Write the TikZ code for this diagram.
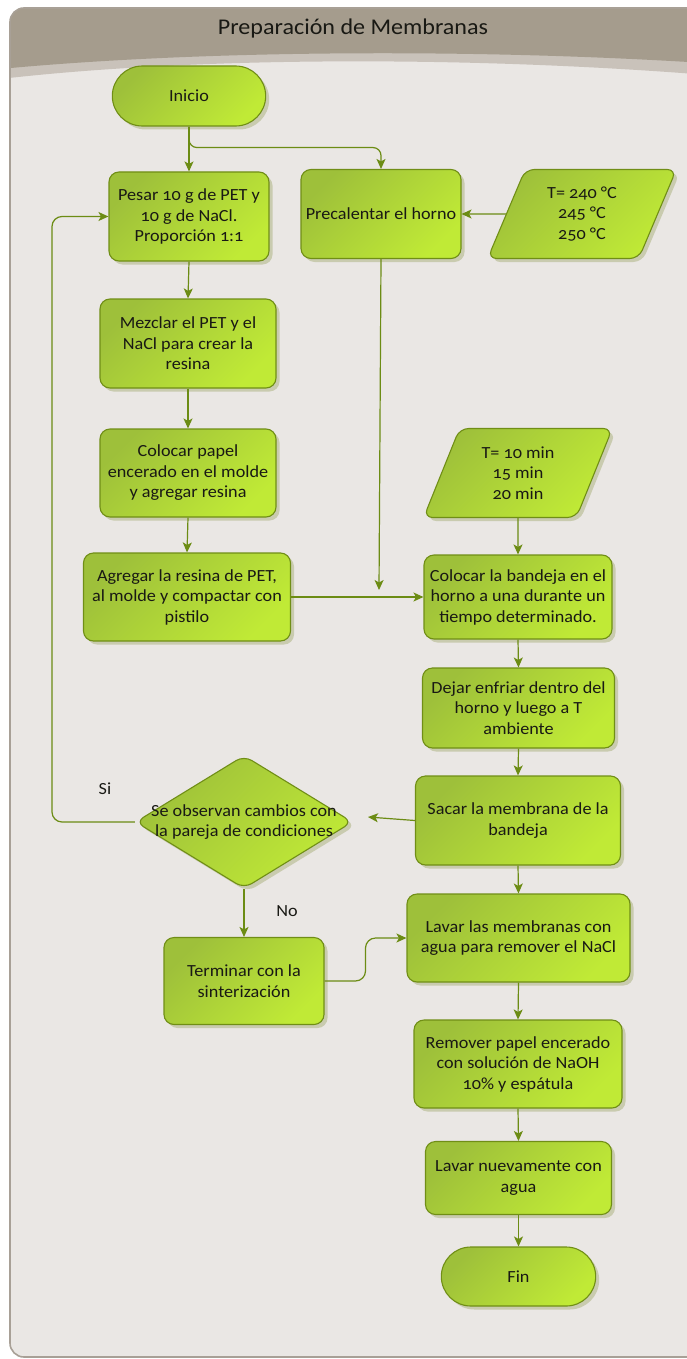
\documentclass[tikz,border=0pt]{standalone}
\usepackage{fontspec}
\setmainfont[Numbers=OldStyle,FakeStretch=1.07]{Carlito}
\usetikzlibrary{shapes.geometric,shapes.misc,shadows,arrows.meta,calc}
\definecolor{gA}{RGB}{158,192,58}
\definecolor{gB}{RGB}{192,234,54}
\definecolor{bord}{RGB}{112,142,22}
\definecolor{conncol}{RGB}{108,140,20}
\definecolor{shad}{RGB}{201,203,175}
\definecolor{bodybg}{RGB}{234,231,228}
\definecolor{framecol}{RGB}{168,160,150}
\definecolor{hdr}{RGB}{165,156,141}
\definecolor{hdrlight}{RGB}{201,194,186}
\definecolor{txt}{RGB}{25,25,20}
\newcommand{\nfont}{\fontsize{17}{20.5}\selectfont}
\tikzset{
  greenfill/.style={draw=bord, line width=1.1pt, top color=gA, bottom color=gB, shading angle=45,
    drop shadow={shadow xshift=3.5pt, shadow yshift=-3.5pt, fill=shad, opacity=1}},
  box/.style={greenfill, rectangle, rounded corners=10pt, align=center, font=\nfont, text=txt, inner sep=2pt},
  term/.style={greenfill, rounded rectangle, align=center, font=\nfont, text=txt, minimum width=160pt, minimum height=60pt},
  para/.style={greenfill, trapezium, trapezium left angle=67, trapezium right angle=113, trapezium stretches=true,
    rounded corners=9pt, align=center, font=\nfont, text=txt, minimum width=189pt, minimum height=89pt, inner sep=0pt},
  decis/.style={greenfill, diamond, rounded corners=9pt, minimum width=217pt, minimum height=133pt, inner sep=0pt},
  conn/.style={draw=conncol, line width=1.2pt, -{Stealth[length=10pt,width=9pt,inset=2.5pt]}},
  lbl/.style={font=\nfont, text=txt}
}
\begin{document}
\begin{tikzpicture}[x=1pt,y=-1pt]
\useasboundingbox (0,0) rectangle (686,1359);
\fill[white] (0,0) rectangle (686,1359);
\begin{scope}
  \clip[rounded corners=14pt] (10,8) rectangle (720,1357);
  \fill[bodybg] (0,0) rectangle (720,1359);
  \fill[hdrlight] (0,0) -- (720,0) -- (720,76) .. controls (480,56) and (200,56) .. (0,79) -- cycle;
  \fill[hdr] (0,0) -- (720,0) -- (720,64) .. controls (480,48) and (200,50) .. (0,69) -- cycle;
\end{scope}
\draw[framecol, line width=1.6pt, rounded corners=14pt] (10,8) rectangle (720,1357);
\node[font=\fontsize{22.5}{26}\selectfont, text=txt] (title) at (353,29) {Preparación de Membranas};

% nodes
\node[term] (ini) at (189,96) {Inicio};
\node[box, minimum width=160pt, minimum height=89pt] (pes) at (189,216.5) {Pesar 10 g de PET y\\10 g de NaCl.\\Proporción 1:1};
\node[box, minimum width=160pt, minimum height=89pt] (pre) at (381,214) {Precalentar el horno};
\node[para] (t1) at (582,214) {T= 240 °C\\245 °C\\250 °C};
\node[box, minimum width=176pt, minimum height=89pt] (mez) at (188,343.5) {Mezclar el PET y el\\NaCl para crear la\\resina};
\node[box, minimum width=176pt, minimum height=88pt] (col) at (188,473) {Colocar papel\\encerado en el molde\\y agregar resina};
\node[para] (t2) at (518,473) {T= 10 min\\15 min\\20 min};
\node[box, minimum width=207pt, minimum height=88pt] (agr) at (187,597) {Agregar la resina de PET,\\al molde y compactar con\\pistilo};
\node[box, minimum width=188pt, minimum height=84pt] (ban) at (518,597) {Colocar la bandeja en el\\horno a una durante un\\tiempo determinado.};
\node[box, minimum width=192pt, minimum height=80pt] (dej) at (518.5,708) {Dejar enfriar dentro del\\horno y luego a T\\ambiente};
\node[box, minimum width=205pt, minimum height=89pt] (sac) at (518,820.5) {Sacar la membrana de la\\bandeja};
\node[decis, label={[font=\nfont, text=txt, align=center]center:Se observan cambios con\\la pareja de condiciones}] (dec) at (244,822) {};
\node[box, minimum width=160pt, minimum height=87pt] (ter) at (244,981) {Terminar con la\\sinterización};
\node[box, minimum width=223pt, minimum height=88pt] (lav) at (518.5,938) {Lavar las membranas con\\agua para remover el NaCl};
\node[box, minimum width=208pt, minimum height=88pt] (rem) at (518,1064) {Remover papel encerado\\con solución de NaOH\\10\% y espátula};
\node[box, minimum width=186pt, minimum height=73pt] (nue) at (518.5,1178) {Lavar nuevamente con\\agua};
\node[term, minimum width=161pt, minimum height=59pt] (fin) at (518.5,1276.5) {Fin};

\node[lbl] (si) at (105,789) {Si};
\node[lbl] (no) at (287,911) {No};

\coordinate (loop) at (52,216.5);
\coordinate (preend) at (379,590);
\coordinate (sacend) at (368,817);

% connectors
\draw[conn] (ini.south) -- (pes.north);
\draw[conn, rounded corners=8pt] (ini.south) -- ++(0,21) -| (pre.north);
\draw[conn] (t1.west) -- (pre.east);
\draw[conn] (pes.south) -- (mez.north);
\draw[conn] (mez.south) -- (col.north);
\draw[conn] (col.south) -- (agr.north);
\draw[conn] (pre.south) -- (preend);
\draw[conn] (agr.east) -- (ban.west);
\draw[conn] (t2.south) -- (ban.north);
\draw[conn] (ban.south) -- (dej.north);
\draw[conn] (dej.south) -- (sac.north);
\draw[conn] (sac.west) -- (sacend);
\draw[conn, rounded corners=10pt] (dec.west) -| (loop) -- (pes.west);
\draw[conn] (dec.south) -- (ter.north);
\draw[conn] (sac.south) -- (lav.north);
\draw[conn, rounded corners=10pt] (ter.east) -| ($(ter.east)!0.5!(lav.west)$) |- (lav.west);
\draw[conn] (lav.south) -- (rem.north);
\draw[conn] (rem.south) -- (nue.north);
\draw[conn] (nue.south) -- (fin.north);
\end{tikzpicture}
\end{document}
